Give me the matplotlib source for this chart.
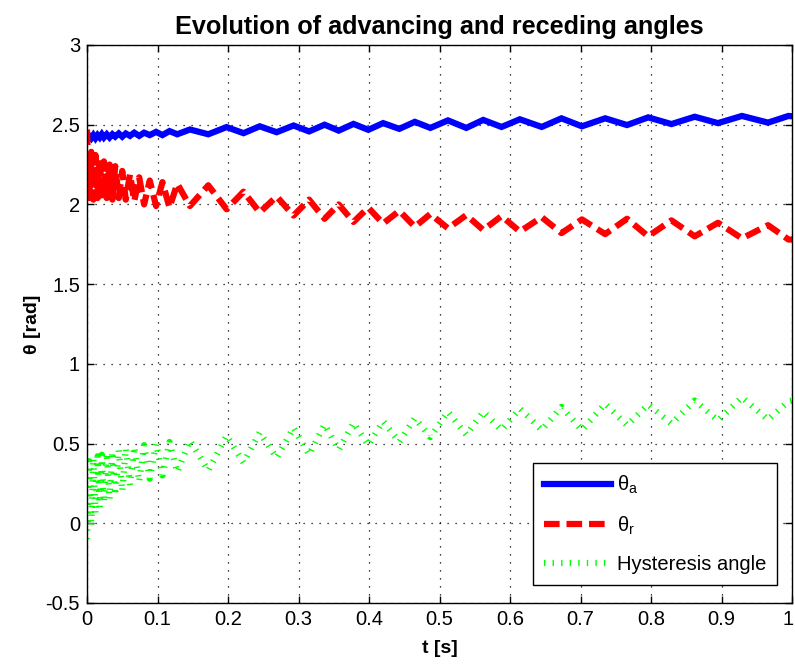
import numpy as np
import matplotlib
matplotlib.use("Agg")
import matplotlib.pyplot as plt

plt.rcParams['font.family'] = ['Liberation Sans', 'DejaVu Sans']
plt.rcParams['mathtext.fontset'] = 'custom'
plt.rcParams['mathtext.rm'] = 'Liberation Sans'
plt.rcParams['mathtext.it'] = 'Liberation Sans:italic'

# time of each turning point of the signals [s]
t = [0, 0.003, 0.006, 0.009, 0.012, 0.015, 0.018, 0.021, 0.024, 0.028,
     0.032, 0.036, 0.040, 0.045, 0.050, 0.055, 0.061, 0.067, 0.074, 0.081,
     0.089, 0.098, 0.107, 0.117, 0.128,
     0.146, 0.172, 0.198, 0.222, 0.245, 0.269, 0.293, 0.315, 0.337, 0.357,
     0.378, 0.399, 0.420, 0.443, 0.465, 0.487, 0.512, 0.538, 0.562, 0.588,
     0.614, 0.645, 0.673, 0.702, 0.735, 0.766, 0.796, 0.829, 0.862, 0.895,
     0.929, 0.966, 0.995, 1.0]

# advancing angle [rad]
theta_a = [2.41, 2.43, 2.415, 2.435, 2.415, 2.435, 2.42, 2.44, 2.42, 2.44,
           2.42, 2.44, 2.425, 2.445, 2.425, 2.445, 2.43, 2.45, 2.43, 2.45,
           2.435, 2.455, 2.435, 2.46, 2.44,
           2.47, 2.44, 2.485, 2.447, 2.49, 2.453, 2.495, 2.458, 2.50, 2.463,
           2.505, 2.468, 2.51, 2.474, 2.518, 2.48, 2.527, 2.48, 2.53, 2.486,
           2.534, 2.486, 2.54, 2.49, 2.54, 2.498, 2.546, 2.504, 2.55, 2.51,
           2.555, 2.513, 2.555, 2.553]

# receding angle [rad]
theta_r = [2.47, 2.04, 2.33, 2.03, 2.31, 2.04, 2.29, 2.03, 2.27, 2.04,
           2.25, 2.03, 2.24, 2.04, 2.21, 2.03, 2.19, 2.02, 2.17, 2.00,
           2.15, 1.99, 2.14, 1.98, 2.13,
           1.99, 2.12, 1.97, 2.08, 1.95, 2.05, 1.93, 2.03, 1.91, 2.00,
           1.89, 1.98, 1.88, 1.96, 1.86, 1.94, 1.85, 1.933, 1.84, 1.927,
           1.83, 1.92, 1.82, 1.906, 1.814, 1.91, 1.80, 1.90, 1.80, 1.885,
           1.787, 1.87, 1.78, 1.78]

# hysteresis angle [rad]
hysteresis = [-0.10, 0.39, -0.02, 0.41, 0.06, 0.42, 0.10, 0.43, 0.13, 0.44,
              0.15, 0.45, 0.175, 0.46, 0.20, 0.47, 0.24, 0.48, 0.26, 0.49,
              0.28, 0.50, 0.30, 0.51, 0.32,
              0.52, 0.33, 0.55, 0.38, 0.57, 0.41, 0.60, 0.43, 0.62, 0.46,
              0.63, 0.49, 0.64, 0.51, 0.66, 0.54, 0.70, 0.555, 0.70, 0.585,
              0.72, 0.585, 0.73, 0.585, 0.75, 0.615, 0.745, 0.625, 0.77, 0.645,
              0.79, 0.65, 0.765, 0.77]

xticks = [0, 0.1, 0.2, 0.3, 0.4, 0.5, 0.6, 0.7, 0.8, 0.9, 1]
xtick_labels = ['0', '0.1', '0.2', '0.3', '0.4', '0.5', '0.6', '0.7', '0.8', '0.9', '1']
yticks = [-0.5, 0, 0.5, 1, 1.5, 2, 2.5, 3]
ytick_labels = ['-0.5', '0', '0.5', '1', '1.5', '2', '2.5', '3']

fig = plt.figure(figsize=(7.95, 6.66), dpi=100)
ax = fig.add_axes([87 / 795, 1 - 603 / 666, 705 / 795, 558 / 666])

lw = 4.5
ax.plot(t, theta_a, color='#0000ff', lw=lw, solid_joinstyle='miter',
        label=r'$\mathrm{\theta_a}$')
ax.plot(t, theta_r, color='#ff0000', lw=lw, linestyle=(0, (2.5, 1.1)),
        label=r'$\mathrm{\theta_r}$')
ax.plot(t, hysteresis, color='#00ff00', lw=lw, linestyle=(0, (0.22, 1.15)),
        label='Hysteresis angle')

ax.set_xlim(0, 1)
ax.set_ylim(-0.5, 3)
ax.set_xticks(xticks)
# last label sits on the figure edge, it is placed by hand below
ax.set_xticklabels(xtick_labels[:-1] + [''])
ax.annotate(xtick_labels[-1], xy=(1, 0), xycoords='axes fraction',
            xytext=(-2.5, -5), textcoords='offset points',
            ha='center', va='top', fontsize=14.5)
ax.set_yticks(yticks)
ax.set_yticklabels(ytick_labels)
ax.tick_params(direction='in', length=5, width=1, top=True, right=True,
               labelsize=14.5, pad=5)
for s in ax.spines.values():
    s.set_linewidth(1.0)

ax.grid(True, color='black', linestyle=(0, (1, 5.4)), linewidth=0.9)

ax.set_title('Evolution of advancing and receding angles', fontsize=18.2,
             fontweight='bold', pad=8)
ax.set_xlabel('t [s]', fontsize=14, fontweight='bold', labelpad=8)
ax.set_ylabel('θ [rad]', fontsize=14, fontweight='bold', labelpad=3)

leg = ax.legend(loc='lower right', bbox_to_anchor=(1 - 15 / 705, 18 / 558),
                borderaxespad=0, fancybox=False, framealpha=1,
                edgecolor='black', fontsize=14.5, handlelength=3.3,
                handletextpad=0.3, labelspacing=0.9, borderpad=0.55)
leg.get_frame().set_linewidth(1.0)

fig.savefig('out.png', dpi=100)
